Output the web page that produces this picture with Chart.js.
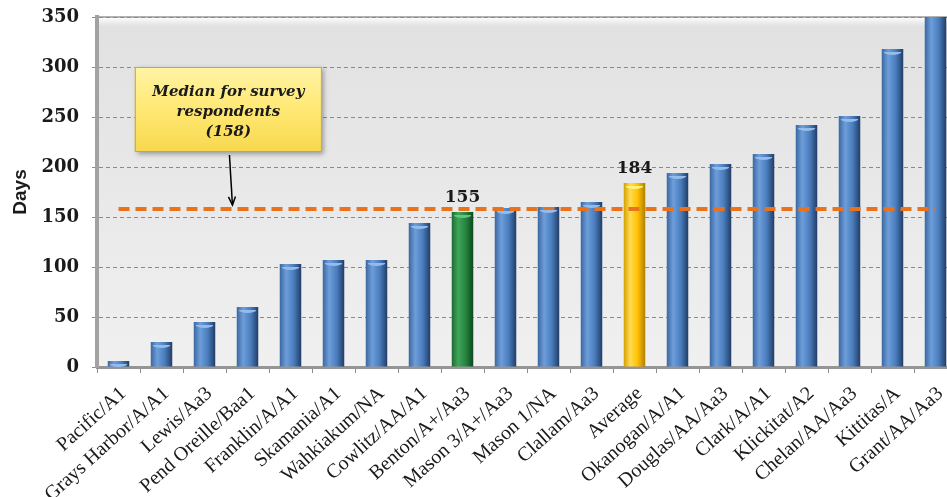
<!DOCTYPE html>
<html>
<head>
<meta charset="utf-8">
<script src="https://cdn.jsdelivr.net/npm/chart.js@4.4.1/dist/chart.umd.min.js"></script>
<style>
  html, body { margin: 0; padding: 0; background: #fff; overflow: hidden; }
  #wrap { width: 962px; height: 497px; }
</style>
</head>
<body>
<div id="wrap"><canvas id="myChart"></canvas></div>
<script>
const counties = [
  "Pacific/A1", "Grays Harbor/A/A1", "Lewis/Aa3", "Pend Oreille/Baa1",
  "Franklin/A/A1", "Skamania/A1", "Wahkiakum/NA", "Cowlitz/AA/A1",
  "Benton/A+/Aa3", "Mason 3/A+/Aa3", "Mason 1/NA", "Clallam/Aa3",
  "Average", "Okanogan/A/A1", "Douglas/AA/Aa3", "Clark/A/A1",
  "Klickitat/A2", "Chelan/AA/Aa3", "Kittitas/A", "Grant/AA/Aa3",
];
const days = [6, 25, 45, 60, 103, 107, 107, 144, 155, 159, 160, 165, 184, 194, 203, 213, 242, 251, 318, 362];
const medianDays = 158;
const yTicks = [0, 50, 100, 150, 200, 250, 300, 350];
const labelledBars = ["Benton/A+/Aa3", "Average"];
const calloutLines = ["Median for survey", "respondents", "(158)"];

const palettes = {
  blue: ["#3b67a0", "#6d9edb", "#4a7dbd", "#213d66"],
  green: ["#1d6a33", "#3ea65a", "#26843f", "#0e4720"],
  gold: ["#d4a000", "#ffdc50", "#ffc000", "#b08000"],
};
const caps = { blue: "#93bbec", green: "#62c77c", gold: "#fff27a" };

function kind(i) {
  if (counties[i] === "Average") return "gold";
  if (counties[i].startsWith("Benton")) return "green";
  return "blue";
}

function barFill(context) {
  const chart = context.chart;
  const x = chart.scales.x;
  if (!x || !chart.chartArea || context.dataIndex === undefined) return "#4f81bd";
  const pal = palettes[kind(context.dataIndex)];
  const cx = x.getPixelForValue(context.dataIndex);
  const half = (x.width / counties.length) * 0.5 / 2;
  const g = chart.ctx.createLinearGradient(cx - half, 0, cx + half, 0);
  g.addColorStop(0, pal[0]);
  g.addColorStop(0.3, pal[1]);
  g.addColorStop(0.65, pal[2]);
  g.addColorStop(1, pal[3]);
  return g;
}

// plot wall: grey gradient with a white rim at the top
const wallPlugin = {
  id: "wall",
  beforeDraw(chart) {
    const { ctx, chartArea: a } = chart;
    ctx.save();
    const g = ctx.createLinearGradient(0, a.top, 0, a.bottom);
    g.addColorStop(0, "#e1e1e1");
    g.addColorStop(1, "#f0f0f0");
    ctx.fillStyle = g;
    ctx.fillRect(a.left, a.top, a.right - a.left, a.bottom - a.top);
    const w = ctx.createLinearGradient(0, a.top, 0, a.top + 9);
    w.addColorStop(0, "rgba(255,255,255,1)");
    w.addColorStop(1, "rgba(255,255,255,0)");
    ctx.fillStyle = w;
    ctx.fillRect(a.left, a.top, a.right - a.left, 9);
    ctx.strokeStyle = "#9a9a9a";
    ctx.lineWidth = 1.5;
    ctx.beginPath();
    ctx.moveTo(a.left, a.top);
    ctx.lineTo(a.right, a.top);
    ctx.stroke();
    ctx.restore();
  },
};

// light caps on top of the bars + value labels
const barTopPlugin = {
  id: "barTop",
  afterDatasetsDraw(chart) {
    const { ctx, chartArea: a } = chart;
    const meta = chart.getDatasetMeta(1);
    ctx.save();
    meta.data.forEach((bar, i) => {
      if (bar.y < a.top + 2) return;
      const half = bar.width / 2;
      ctx.fillStyle = caps[kind(i)];
      ctx.beginPath();
      ctx.ellipse(bar.x, bar.y + 3, half - 2, 3, 0, 0, Math.PI);
      ctx.fill();
      if (labelledBars.includes(counties[i])) {
        ctx.fillStyle = "#1a1a1a";
        ctx.font = "bold 17px 'DejaVu Serif'";
        ctx.textAlign = "center";
        ctx.textBaseline = "bottom";
        ctx.fillText(String(days[i]), bar.x, bar.y - 6);
      }
    });
    ctx.restore();
  },
};

// yellow callout box with arrow to the median line
const calloutPlugin = {
  id: "callout",
  afterDraw(chart) {
    const { ctx } = chart;
    const x = chart.scales.x, y = chart.scales.y;
    const left = x.getPixelForValue(0.38), right = x.getPixelForValue(4.73);
    const top = y.getPixelForValue(300), bottom = y.getPixelForValue(215);
    ctx.save();
    ctx.shadowColor = "rgba(0,0,0,0.35)";
    ctx.shadowBlur = 5;
    ctx.shadowOffsetX = 2;
    ctx.shadowOffsetY = 2;
    const g = ctx.createLinearGradient(0, top, 0, bottom);
    g.addColorStop(0, "#fff4a6");
    g.addColorStop(0.5, "#ffe873");
    g.addColorStop(1, "#f7d84e");
    ctx.fillStyle = g;
    ctx.fillRect(left, top, right - left, bottom - top);
    ctx.shadowColor = "transparent";
    ctx.strokeStyle = "#c9aa2a";
    ctx.lineWidth = 1;
    ctx.strokeRect(left + 0.5, top + 0.5, right - left - 1, bottom - top - 1);
    ctx.fillStyle = "#1a1a1a";
    ctx.font = "italic bold 15px 'DejaVu Serif'";
    ctx.textAlign = "center";
    ctx.textBaseline = "middle";
    const cx = (left + right) / 2;
    calloutLines.forEach((t, k) => ctx.fillText(t, cx, top + 25 + k * 20));

    // arrow
    const ax0 = x.getPixelForValue(2.58), ay0 = bottom + 3;
    const ax1 = x.getPixelForValue(2.65), ay1 = y.getPixelForValue(medianDays) - 4;
    ctx.strokeStyle = "#000";
    ctx.lineWidth = 1.5;
    ctx.beginPath();
    ctx.moveTo(ax0, ay0);
    ctx.lineTo(ax1, ay1);
    ctx.stroke();
    const ang = Math.atan2(ay1 - ay0, ax1 - ax0);
    ctx.beginPath();
    ctx.moveTo(ax1 - 9 * Math.cos(ang - 0.4), ay1 - 9 * Math.sin(ang - 0.4));
    ctx.lineTo(ax1, ay1);
    ctx.lineTo(ax1 - 9 * Math.cos(ang + 0.4), ay1 - 9 * Math.sin(ang + 0.4));
    ctx.stroke();
    ctx.restore();
  },
};

new Chart("myChart", {
  type: "bar",
  data: {
    labels: counties,
    datasets: [
      {
        type: "line",
        data: counties.map(() => medianDays),
        borderColor: "#e8731c",
        borderWidth: 4,
        borderDash: [11, 6],
        pointRadius: 0,
        fill: false,
        order: 0,
      },
      {
        data: days,
        backgroundColor: barFill,
        borderWidth: 0,
        barPercentage: 0.5,
        categoryPercentage: 1,
        order: 1,
      },
    ],
  },
  plugins: [wallPlugin, barTopPlugin, calloutPlugin],
  options: {
    responsive: true,
    maintainAspectRatio: false,
    animation: false,
    layout: { padding: { top: 17, right: 5, left: 0, bottom: 0 } },
    plugins: { legend: { display: false }, tooltip: { enabled: false } },
    scales: {
      x: {
        afterFit: (scale) => { scale.height = 130; },
        grid: { drawOnChartArea: false, tickLength: 6, color: "#8c8c8c", offset: true },
        border: { display: true, color: "#959595", width: 3 },
        ticks: {
          autoSkip: false,
          minRotation: 42,
          maxRotation: 42,
          padding: 9,
          labelOffset: 5,
          color: "#1a1a1a",
          font: { family: "'Liberation Serif'", size: 20 },
        },
      },
      y: {
        min: 0,
        max: 350,
        afterFit: (scale) => {
          scale.width = 97;
          scale.paddingTop = 0;
          scale.paddingBottom = 0;
        },
        afterBuildTicks: (scale) => { scale.ticks = yTicks.map((v) => ({ value: v })); },
        grid: { color: "#8a8a8a", tickLength: 5, lineWidth: 1 },
        border: { display: true, color: "#a2a2a2", width: 4, dash: [4, 3] },
        ticks: {
          padding: 13,
          color: "#1a1a1a",
          font: { family: "'DejaVu Serif'", size: 18, weight: "bold" },
        },
        title: {
          display: true,
          text: "Days",
          color: "#1a1a1a",
          padding: { top: 9, bottom: 0 },
          font: { family: "'Liberation Sans'", size: 19, weight: "bold" },
        },
      },
    },
  },
});
</script>
</body>
</html>
